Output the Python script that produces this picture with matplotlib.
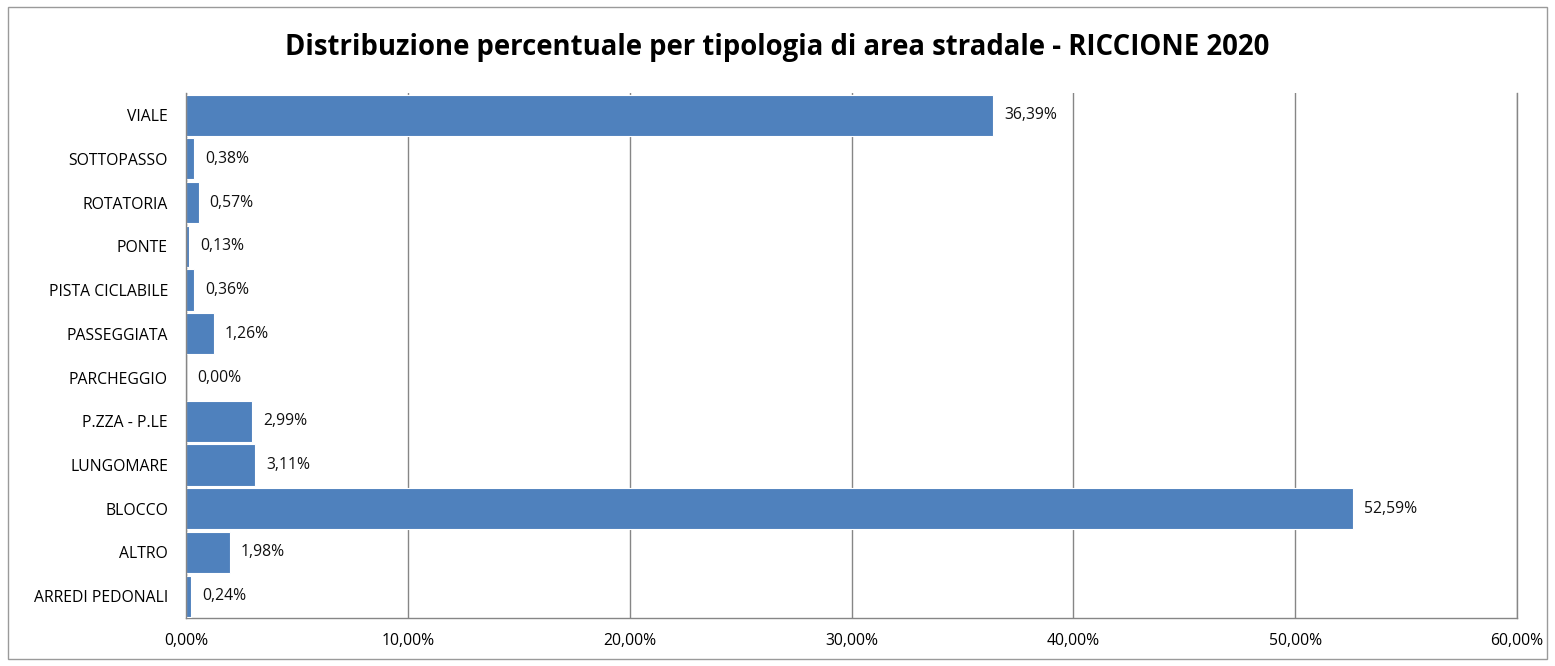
import matplotlib
matplotlib.use("Agg")
import matplotlib.pyplot as plt
from matplotlib.patches import Rectangle
from matplotlib.ticker import FuncFormatter

plt.rcParams['font.family'] = ['Open Sans', 'DejaVu Sans']

categorie = ["VIALE", "SOTTOPASSO", "ROTATORIA", "PONTE", "PISTA CICLABILE",
             "PASSEGGIATA", "PARCHEGGIO", "P.ZZA - P.LE", "LUNGOMARE",
             "BLOCCO", "ALTRO", "ARREDI PEDONALI"]
percentuali = [36.39, 0.38, 0.57, 0.13, 0.36, 1.26, 0.00, 2.99, 3.11,
               52.59, 1.98, 0.24]
tick_x = [0, 10, 20, 30, 40, 50, 60]

colore = "#4F81BD"
grigio = "#868686"

fig = plt.figure(figsize=(15.55, 6.66), dpi=100)
ax = fig.add_axes([0.1196, 0.072, 0.8560, 0.788])

pos = list(range(len(categorie)))
ax.barh(pos, percentuali, height=0.94, color=colore, edgecolor="white",
        linewidth=0.8, zorder=3)
for y, v in zip(pos, percentuali):
    ax.annotate(f"{v:.2f}%".replace(".", ","), (v, y), xytext=(8, 0),
                textcoords="offset points", va="center", ha="left",
                fontsize=11.3, color="#111111")

ax.set_ylim(len(categorie) - 0.5, -0.5)
ax.set_xlim(0, 60)
ax.set_yticks(pos)
ax.set_yticklabels(categorie, fontsize=11.3)
ax.set_xticks(tick_x)
ax.xaxis.set_major_formatter(FuncFormatter(lambda x, p: f"{x:.2f}%".replace(".", ",")))
ax.tick_params(axis="x", labelsize=11.3, length=0, pad=11)
ax.tick_params(axis="y", length=0, pad=13)
ax.grid(axis="x", color=grigio, linewidth=1, zorder=0)
ax.spines["top"].set_visible(False)
for s in ["left", "bottom", "right"]:
    ax.spines[s].set_color(grigio)
    ax.spines[s].set_linewidth(1)
ax.spines["left"].set_zorder(4)

fig.suptitle("Distribuzione percentuale per tipologia di area stradale - RICCIONE 2020",
             fontsize=19.8, fontweight="bold", y=0.95)

fig.patches.append(Rectangle((0.005, 0.01), 0.99, 0.98, transform=fig.transFigure,
                             fill=False, edgecolor="#9A9A9A", linewidth=1))

fig.savefig("out.png", dpi=100)
